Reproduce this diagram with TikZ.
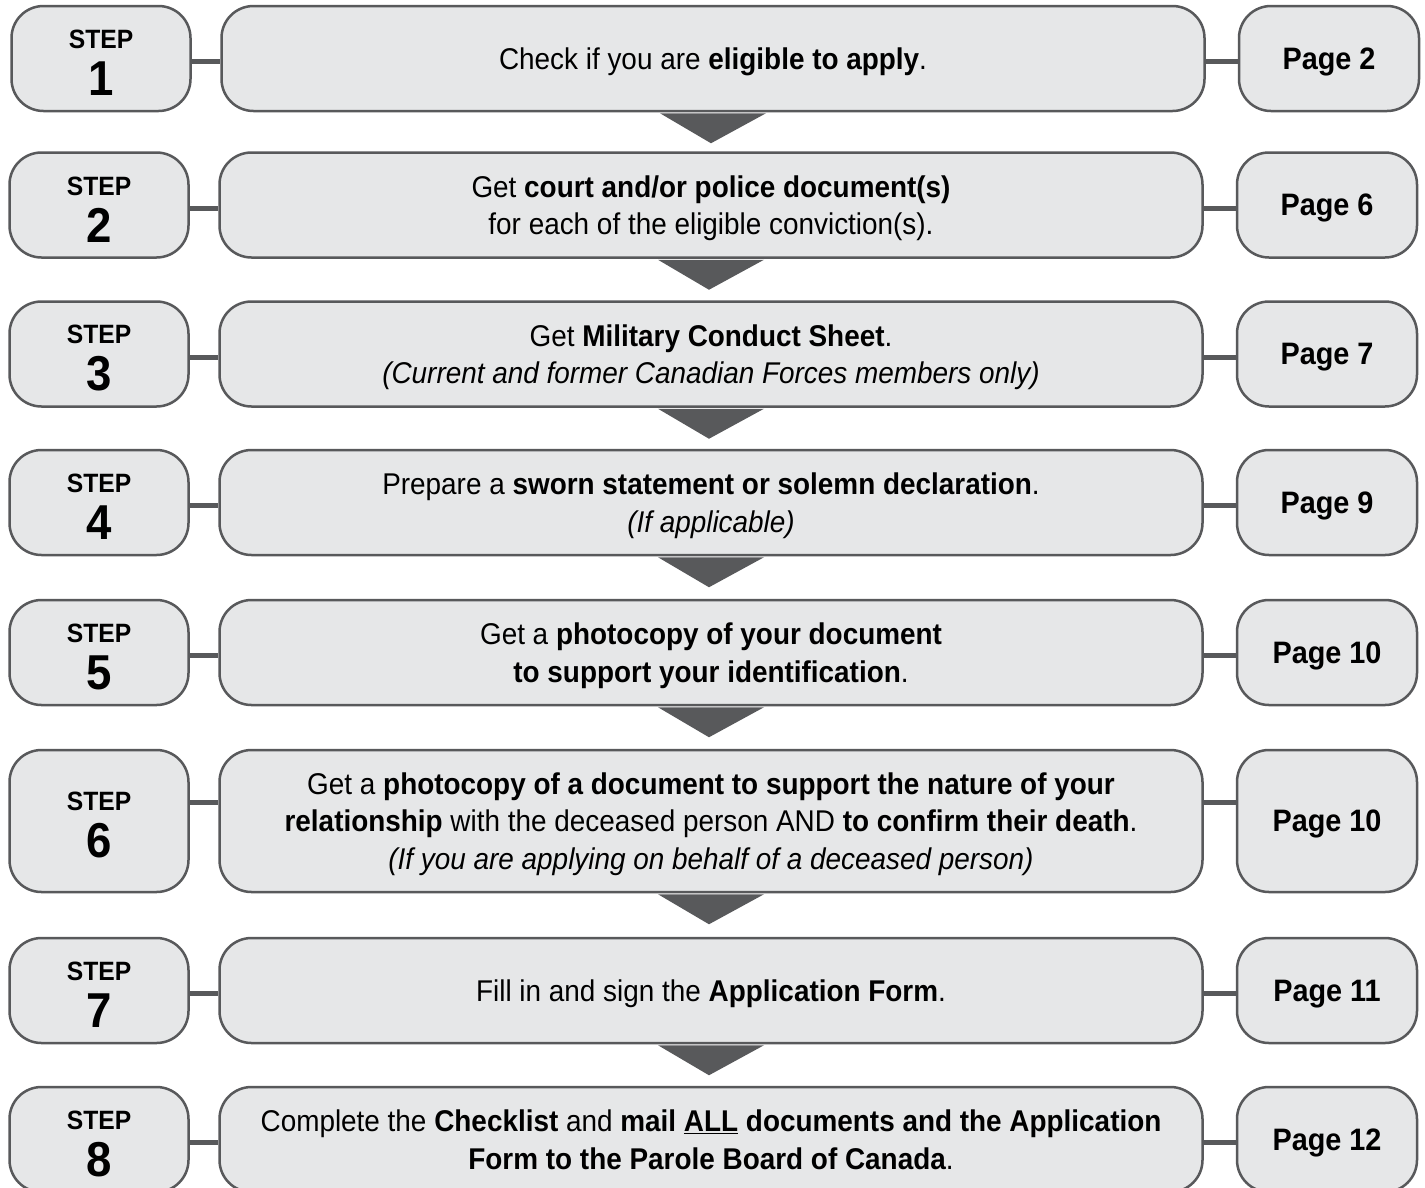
\documentclass[tikz,border=0pt]{standalone}
\usepackage{fontspec}
\setmainfont{Liberation Sans}[FakeStretch=0.93]
\usetikzlibrary{calc}
\definecolor{boxfill}{HTML}{E6E7E8}
\definecolor{boxline}{HTML}{58595B}
\newcommand{\numf}{\fontsize{49}{49}\selectfont\bfseries}
\tikzset{
  box/.style={draw=boxline, line width=2.5pt, fill=boxfill, rounded corners=32pt, inner sep=0pt, align=center, text=black},
  stepbox/.style={box, minimum width=179pt, minimum height=105pt, text height=74pt, font=\fontsize{26.5}{47}\selectfont\bfseries},
  mainbox/.style={box, minimum width=983pt, minimum height=105pt, text depth=0pt, font=\fontsize{30}{37.5}\selectfont},
  pagebox/.style={box, minimum width=180pt, minimum height=105pt, text depth=0pt, font=\fontsize{31}{36}\selectfont\bfseries},
  link/.style={draw=boxline, line width=5pt},
  arrowtri/.style={fill=boxline, draw=none},
}
\begin{document}
\begin{tikzpicture}[x=1pt,y=-1pt]
\useasboundingbox[fill=white] (0,0) rectangle (1425,1187);
% row 1
\node[stepbox] (s1) at (101,58.5) {STEP\\{\numf 1}};
\node[mainbox] (m1) at (713,58.5) {Check if you are \textbf{eligible to apply}.};
\node[pagebox] (p1) at (1329,58.5) {Page 2};
% row 2
\node[stepbox] (s2) at (99,205) {STEP\\{\numf 2}};
\node[mainbox] (m2) at (711,205) {Get \textbf{court and/or police document(s)}\\for each of the eligible conviction(s).};
\node[pagebox] (p2) at (1327,205) {Page 6};
% row 3
\node[stepbox] (s3) at (99,354) {STEP\\{\numf 3}};
\node[mainbox] (m3) at (711,354) {Get \textbf{Military Conduct Sheet}.\\\textit{(Current and former Canadian Forces members only)}};
\node[pagebox] (p3) at (1327,354) {Page 7};
% row 4
\node[stepbox] (s4) at (99,502.5) {STEP\\{\numf 4}};
\node[mainbox] (m4) at (711,502.5) {Prepare a \textbf{sworn statement or solemn declaration}.\\\textit{(If applicable)}};
\node[pagebox] (p4) at (1327,502.5) {Page 9};
% row 5
\node[stepbox] (s5) at (99,652.5) {STEP\\{\numf 5}};
\node[mainbox] (m5) at (711,652.5) {Get a \textbf{photocopy of your document}\\\textbf{to support your identification}.};
\node[pagebox] (p5) at (1327,652.5) {Page 10};
% row 6
\node[stepbox, minimum height=142pt] (s6) at (99,821) {STEP\\{\numf 6}};
\node[mainbox, minimum height=142pt] (m6) at (711,821) {Get a \textbf{photocopy of a document to support the nature of your}\\\textbf{relationship} with the deceased person AND \textbf{to confirm their death}.\\\textit{(If you are applying on behalf of a deceased person)}};
\node[pagebox, minimum height=142pt] (p6) at (1327,821) {Page 10};
% row 7
\node[stepbox] (s7) at (99,990.5) {STEP\\{\numf 7}};
\node[mainbox] (m7) at (711,990.5) {Fill in and sign the \textbf{Application Form}.};
\node[pagebox] (p7) at (1327,990.5) {Page 11};
% row 8
\node[stepbox] (s8) at (99,1139.5) {STEP\\{\numf 8}};
\node[mainbox] (m8) at (711,1139.5) {Complete the \textbf{Checklist} and \textbf{mail \underline{ALL} documents and the Application}\\\textbf{Form to the Parole Board of Canada}.};
\node[pagebox] (p8) at (1327,1139.5) {Page 12};
% connectors
\foreach \i in {1,2,3,4,5,7,8}{
  \draw[link] ([yshift=-3pt]s\i.east) -- ([yshift=-3pt]m\i.west);
  \draw[link] ([yshift=-3pt]m\i.east) -- ([yshift=-3pt]p\i.west);
}
\draw[link] ([yshift=19pt]s6.east) -- ([yshift=19pt]m6.west);
\draw[link] ([yshift=19pt]m6.east) -- ([yshift=19pt]p6.west);
% arrows
\foreach \i in {1,...,7}{
  \fill[arrowtri] ($(m\i.south)+(-53,1)$) -- ($(m\i.south)+(53,1)$) -- ($(m\i.south)+(-2,31)$) -- cycle;
}
\end{tikzpicture}
\end{document}
